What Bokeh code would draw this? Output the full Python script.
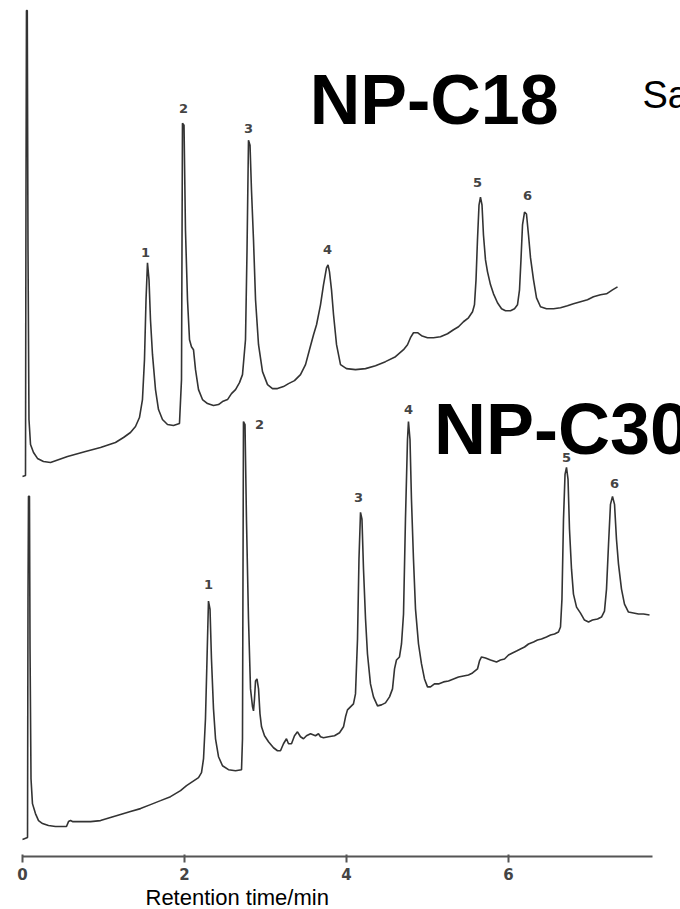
from bokeh.plotting import figure
from bokeh.models import Range1d, FixedTicker, Label, Title
from bokeh.embed import file_html
from bokeh.resources import INLINE
from bokeh.core.properties import value

# ---- NP-C18 chromatogram (upper trace): retention time (min), detector signal (a.u.)
c18_time = [0.000, 0.037, 0.043, 0.049, 0.059, 0.068, 0.080, 0.099, 0.136, 0.185, 0.259, 0.346,
            0.556, 0.778, 0.963, 1.148, 1.247, 1.333, 1.395, 1.444, 1.481, 1.506, 1.525, 1.543,
            1.562, 1.580, 1.605, 1.642, 1.679, 1.728, 1.790, 1.864, 1.938, 1.963, 1.975, 1.994,
            2.012, 2.037, 2.062, 2.086, 2.111, 2.136, 2.173, 2.222, 2.284, 2.358, 2.420, 2.469,
            2.531, 2.580, 2.630, 2.679, 2.716, 2.753, 2.772, 2.790, 2.809, 2.827, 2.852, 2.877,
            2.914, 2.963, 3.025, 3.086, 3.148, 3.222, 3.284, 3.358, 3.432, 3.494, 3.543, 3.593,
            3.630, 3.679, 3.716, 3.753, 3.772, 3.790, 3.815, 3.840, 3.877, 3.926, 4.000, 4.111,
            4.235, 4.358, 4.481, 4.605, 4.704, 4.753, 4.790, 4.827, 4.877, 4.926, 5.000, 5.074,
            5.160, 5.247, 5.321, 5.383, 5.444, 5.506, 5.556, 5.580, 5.599, 5.617, 5.636, 5.654,
            5.673, 5.691, 5.716, 5.741, 5.778, 5.815, 5.864, 5.914, 5.963, 6.025, 6.074, 6.111,
            6.136, 6.154, 6.173, 6.198, 6.222, 6.247, 6.272, 6.309, 6.346, 6.395, 6.469, 6.556,
            6.642, 6.728, 6.802, 6.889, 6.975, 7.049, 7.136, 7.210, 7.284, 7.346]
c18_signal = [38.5, 38.6, 66.2, 85.2, 85.2, 61.2, 44.2, 41.7, 40.9, 40.3, 40.0, 39.9,
              40.5, 41.0, 41.4, 41.9, 42.4, 42.9, 43.5, 44.4, 46.2, 50.2, 56.2, 59.9,
              58.2, 54.2, 50.7, 47.2, 45.2, 44.2, 43.7, 43.6, 43.8, 48.2, 73.9, 73.7,
              63.2, 56.2, 52.2, 51.5, 51.2, 49.2, 47.2, 46.2, 45.8, 45.6, 45.7, 46.0,
              46.2, 46.8, 47.2, 47.9, 48.7, 52.2, 61.2, 72.2, 71.7, 67.2, 62.2, 56.2,
              51.7, 49.0, 47.7, 47.3, 47.3, 47.5, 47.8, 48.1, 48.7, 49.7, 51.2, 52.7,
              53.7, 55.7, 57.7, 59.4, 59.7, 59.0, 57.2, 54.7, 51.7, 49.7, 49.3, 49.2,
              49.3, 49.6, 50.0, 50.5, 51.2, 51.7, 52.4, 52.9, 52.9, 52.6, 52.4, 52.4,
              52.5, 52.8, 53.2, 53.5, 54.0, 54.4, 55.0, 55.7, 58.2, 62.2, 65.7, 66.5,
              65.7, 62.7, 60.2, 59.0, 57.7, 56.8, 55.9, 55.3, 55.1, 55.1, 55.3, 55.7,
              57.2, 60.2, 63.7, 65.0, 64.8, 62.7, 60.4, 58.2, 56.4, 55.5, 55.3, 55.3,
              55.4, 55.6, 55.8, 56.0, 56.2, 56.5, 56.7, 56.8, 57.2, 57.5]

# ---- NP-C30 chromatogram (lower trace)
c30_time = [0.000, 0.062, 0.068, 0.074, 0.086, 0.093, 0.105, 0.123, 0.160, 0.198, 0.247, 0.321,
            0.407, 0.494, 0.543, 0.568, 0.593, 0.617, 0.716, 0.840, 0.963, 1.086, 1.210, 1.333,
            1.457, 1.580, 1.704, 1.827, 1.951, 2.025, 2.099, 2.173, 2.210, 2.235, 2.259, 2.278,
            2.296, 2.315, 2.333, 2.358, 2.383, 2.420, 2.469, 2.543, 2.630, 2.704, 2.716, 2.728,
            2.747, 2.765, 2.790, 2.815, 2.840, 2.852, 2.864, 2.877, 2.895, 2.914, 2.932, 2.951,
            2.988, 3.037, 3.099, 3.148, 3.185, 3.222, 3.259, 3.284, 3.321, 3.358, 3.395, 3.432,
            3.469, 3.506, 3.556, 3.617, 3.654, 3.679, 3.716, 3.778, 3.852, 3.914, 3.963, 3.988,
            4.012, 4.049, 4.086, 4.111, 4.136, 4.154, 4.173, 4.191, 4.210, 4.235, 4.259, 4.296,
            4.333, 4.383, 4.432, 4.481, 4.531, 4.568, 4.593, 4.617, 4.654, 4.679, 4.704, 4.728,
            4.753, 4.765, 4.784, 4.802, 4.827, 4.852, 4.889, 4.926, 4.963, 5.000, 5.037, 5.086,
            5.136, 5.198, 5.259, 5.321, 5.383, 5.444, 5.506, 5.556, 5.617, 5.642, 5.667, 5.716,
            5.778, 5.852, 5.901, 5.951, 6.000, 6.049, 6.099, 6.148, 6.198, 6.247, 6.309, 6.358,
            6.407, 6.469, 6.519, 6.568, 6.617, 6.642, 6.660, 6.679, 6.698, 6.716, 6.735, 6.753,
            6.778, 6.802, 6.840, 6.889, 6.938, 6.988, 7.037, 7.099, 7.148, 7.185, 7.210, 7.235,
            7.259, 7.284, 7.309, 7.333, 7.358, 7.395, 7.432, 7.481, 7.543, 7.605, 7.667, 7.741]
c30_signal = [2.1, 2.3, 26.2, 36.5, 36.5, 21.2, 8.2, 5.7, 4.7, 4.0, 3.7, 3.5,
              3.4, 3.4, 3.4, 3.9, 4.0, 3.9, 3.9, 3.9, 4.0, 4.3, 4.6, 4.9,
              5.2, 5.6, 6.0, 6.4, 7.0, 7.5, 7.9, 8.3, 8.8, 10.2, 14.2, 20.2,
              26.0, 25.2, 20.2, 15.2, 12.2, 10.4, 9.5, 9.1, 9.0, 9.1, 12.2, 44.0,
              43.7, 34.2, 24.2, 17.2, 15.4, 15.0, 16.2, 18.0, 18.2, 17.2, 14.7, 13.4,
              12.5, 11.9, 11.3, 11.0, 11.0, 11.7, 12.2, 11.7, 11.7, 12.5, 12.9, 12.4,
              12.2, 12.5, 12.7, 12.5, 12.7, 12.4, 12.3, 12.4, 12.5, 12.8, 13.4, 14.4,
              15.1, 15.4, 15.7, 16.7, 22.2, 30.2, 34.9, 34.2, 29.2, 24.2, 20.7, 17.7,
              16.4, 15.5, 15.6, 15.8, 16.4, 17.2, 19.2, 20.1, 20.4, 21.7, 24.7, 34.2,
              42.2, 44.0, 42.2, 36.2, 30.2, 25.2, 21.7, 19.7, 18.2, 17.4, 17.4, 17.7,
              17.7, 17.9, 18.0, 18.2, 18.4, 18.5, 18.6, 18.8, 19.2, 20.0, 20.4, 20.3,
              20.1, 19.9, 20.1, 20.2, 20.6, 20.8, 21.0, 21.2, 21.4, 21.7, 21.9, 22.1,
              22.2, 22.4, 22.6, 22.7, 22.9, 23.4, 26.2, 34.2, 38.7, 39.4, 38.2, 33.2,
              29.2, 26.7, 25.4, 24.8, 24.1, 23.9, 24.1, 24.2, 24.4, 25.0, 27.2, 31.7,
              35.7, 36.5, 35.7, 32.2, 29.7, 27.2, 25.7, 24.9, 24.8, 24.7, 24.7, 24.6]

# ---- peak numbering
peak_ids = ["1", "2", "3", "4", "5", "6"]
c18_peak_time = [1.519, 1.988, 2.790, 3.765, 5.617, 6.235]
c18_peak_label_y = [60.9, 75.4, 73.4, 61.2, 68.0, 66.7]
c30_peak_time = [2.296, 2.926, 4.148, 4.765, 6.716, 7.309]
c30_peak_label_y = [27.7, 43.7, 36.4, 45.2, 40.4, 37.8]

x_ticks = [0, 2, 4, 6]
x_axis_extent = (0, 7.778)
x_label = "Retention time/min"

p = figure(width=680, height=909, output_backend="svg", toolbar_location=None,
           x_range=Range1d(-0.2716, 8.1235), y_range=Range1d(0.4, 86.2),
           y_axis_location=None,
           min_border_left=0, min_border_right=0, min_border_top=0, min_border_bottom=51)
p.grid.visible = False
p.outline_line_color = None
p.background_fill_color = "white"
p.border_fill_color = "white"

ax = p.xaxis[0]
ax.ticker = FixedTicker(ticks=x_ticks)
ax.bounds = x_axis_extent
ax.axis_line_color = "#555555"
ax.axis_line_width = 2
ax.major_tick_line_color = "#555555"
ax.major_tick_line_width = 2
ax.major_tick_out = 6
ax.major_tick_in = 2
ax.minor_tick_line_color = None
ax.major_label_standoff = 5
ax.major_label_text_font = "DejaVu Sans"
ax.major_label_text_font_style = "bold"
ax.major_label_text_font_size = "15px"
ax.major_label_text_color = "#444444"

p.add_layout(Title(text=x_label, align="left", offset=145, standoff=0,
                   text_font="Liberation Sans", text_font_style="normal",
                   text_font_size="22px", text_color="black"), "below")

p.line(c18_time, c18_signal, line_color="#333333", line_width=1.6)
p.line(c30_time, c30_signal, line_color="#333333", line_width=1.6)

for xs, ys in ((c18_peak_time, c18_peak_label_y), (c30_peak_time, c30_peak_label_y)):
    p.text(x=xs, y=ys, text=peak_ids, text_align="center", text_baseline="middle",
           text_font=value("DejaVu Sans"), text_font_style="bold",
           text_font_size="13px", text_color="#444444")

p.add_layout(Label(x=3.545, y=76.2, text="NP-C18", text_font="Liberation Sans",
                   text_font_style="bold", text_font_size="70px", text_color="black",
                   text_align="left", text_baseline="alphabetic"))
p.add_layout(Label(x=7.654, y=76.7, text="Sa", text_font="Liberation Sans",
                   text_font_size="38px", text_color="black",
                   text_align="left", text_baseline="alphabetic"))
p.add_layout(Label(x=5.080, y=43.2, text="NP-C30", text_font="Liberation Sans",
                   text_font_style="bold", text_font_size="72px", text_color="black",
                   text_align="left", text_baseline="alphabetic"))

open("out.html", "w").write(file_html(p, INLINE))
